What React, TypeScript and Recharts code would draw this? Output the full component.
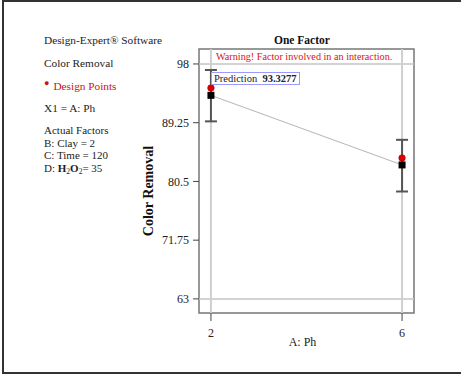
import {
  ComposedChart,
  Line,
  Scatter,
  XAxis,
  YAxis,
  ReferenceLine,
  ReferenceArea,
  ErrorBar,
  Label,
} from "recharts";

const phLevels = [2, 6];
const predicted = [93.3277, 82.96];
const lowerCI = [89.45, 79.0];
const upperCI = [97.1, 86.7];
const designPoints = [94.43, 84.0];
const xTicks = [2, 6];
const yTicks = [63, 71.75, 80.5, 89.25, 98];

const rows = phLevels.map((ph, i) => ({
  ph,
  pred: predicted[i],
  actual: designPoints[i],
  ci: [predicted[i] - lowerCI[i], upperCI[i] - predicted[i]],
}));

const FONT = "'Liberation Serif', 'DejaVu Serif', serif";
const tickStyle = { fontSize: 12, fill: "#222", fontFamily: FONT };

const Square = (p: any) => (
  <rect x={p.cx - 3.5} y={p.cy - 3.5} width={7} height={7} fill="#000" />
);
const RedDot = (p: any) => (
  <circle cx={p.cx} cy={p.cy} r={3.3} fill="#e00000" stroke="#900" strokeWidth={0.5} />
);

const abs = (left: number, top: number, extra: any = {}) => ({
  position: "absolute" as const,
  left,
  top,
  whiteSpace: "nowrap" as const,
  lineHeight: "14px",
  fontSize: 11.3,
  color: "#222",
  ...extra,
});

const sub = { fontSize: 7.5, position: "relative" as const, top: 2 };

export default function App() {
  return (
    <div
      style={{
        position: "absolute",
        left: 0,
        top: 0,
        width: 461,
        height: 375,
        background: "#fff",
        fontFamily: FONT,
        overflow: "hidden",
      }}
    >
      <div
        style={{
          position: "absolute",
          left: 2,
          top: 0,
          width: 480,
          height: 370,
          borderLeft: "2px solid #333",
          borderTop: "2px solid #333",
          borderBottom: "2px solid #333",
        }}
      />
      <ComposedChart
        width={461}
        height={375}
        data={rows}
        margin={{ top: 49, right: 47, left: 159, bottom: 32 }}
        style={{ position: "absolute", left: 0, top: 0 }}
      >
        <XAxis
          dataKey="ph"
          type="number"
          domain={[1.75, 6.25]}
          ticks={xTicks}
          allowDataOverflow
          axisLine={false}
          tickSize={8}
          tickLine={{ stroke: "#444" }}
          tick={{ ...tickStyle, dy: 5 }}
          height={30}
        >
          <Label
            value="A: Ph"
            position="insideBottom"
            offset={-3}
            dx={-4}
            style={{ fontSize: 12, fill: "#222", fontFamily: FONT }}
          />
        </XAxis>
        <YAxis
          type="number"
          domain={[60.9, 100.23]}
          ticks={yTicks}
          allowDataOverflow
          axisLine={false}
          tickSize={6}
          tickMargin={4}
          tickLine={{ stroke: "#444" }}
          tick={tickStyle}
          width={40}
        >
          <Label
            content={({ viewBox }: any) => {
              const x = viewBox.x - 11;
              const y = viewBox.y + viewBox.height / 2 + 10;
              return (
                <text
                  x={x}
                  y={y}
                  transform={`rotate(-90, ${x}, ${y})`}
                  textAnchor="middle"
                  dominantBaseline="central"
                  style={{ fontSize: 14, fontWeight: "bold", fill: "#111", fontFamily: FONT }}
                >
                  Color Removal
                </text>
              );
            }}
          />
        </YAxis>
        <ReferenceLine y={98} stroke="#c4c4c4" strokeWidth={1.5} />
        <ReferenceLine y={63} stroke="#c4c4c4" strokeWidth={1.5} />
        <ReferenceLine x={2} stroke="#cfcfcf" strokeWidth={2} />
        <ReferenceLine x={6} stroke="#cfcfcf" strokeWidth={2} />
        <ReferenceArea
          x1={1.75}
          x2={6.25}
          y1={60.9}
          y2={100.23}
          fill="none"
          stroke="#777"
          strokeWidth={1.5}
          ifOverflow="visible"
        />
        <Line
          type="linear"
          dataKey="pred"
          stroke="#b5b5b5"
          strokeWidth={1}
          dot={false}
          isAnimationActive={false}
        />
        <Scatter dataKey="pred" shape={Square} isAnimationActive={false}>
          <ErrorBar dataKey="ci" direction="y" width={6} stroke="#555" strokeWidth={2} />
        </Scatter>
        <Scatter dataKey="actual" shape={RedDot} isAnimationActive={false} />
      </ComposedChart>

      <div style={abs(44, 33)}>Design-Expert® Software</div>
      <div style={abs(44, 56)}>Color Removal</div>
      <div style={abs(44, 79, { color: "#cc1111" })}>
        <span style={{ fontSize: 9, position: "relative", top: -4, marginRight: 4 }}>●</span>
        Design Points
      </div>
      <div style={abs(44, 101)}>X1 = A: Ph</div>
      <div style={abs(44, 124, { fontSize: 11, lineHeight: "12.5px" })}>
        Actual Factors
        <br />
        B: Clay = 2
        <br />
        C: Time = 120
        <br />
        D: <b>H</b>
        <span style={sub}>2</span>
        <b>O</b>
        <span style={sub}>2</span>= 35
      </div>

      <div style={abs(274, 33, { fontSize: 11.5, fontWeight: "bold", color: "#111" })}>
        One Factor
      </div>
      <div style={abs(216, 50, { fontSize: 10.2, color: "#dd1111" })}>
        Warning! Factor involved in an interaction.
      </div>
      <div
        style={abs(211, 72, {
          border: "1px solid #9a9aff",
          padding: "0 2px",
          lineHeight: "11px",
          fontSize: 10.5,
          background: "#fff",
        })}
      >
        Prediction&nbsp;&nbsp;<span style={{ fontSize: 10.5, fontWeight: 600 }}>93.3277</span>
      </div>
    </div>
  );
}
